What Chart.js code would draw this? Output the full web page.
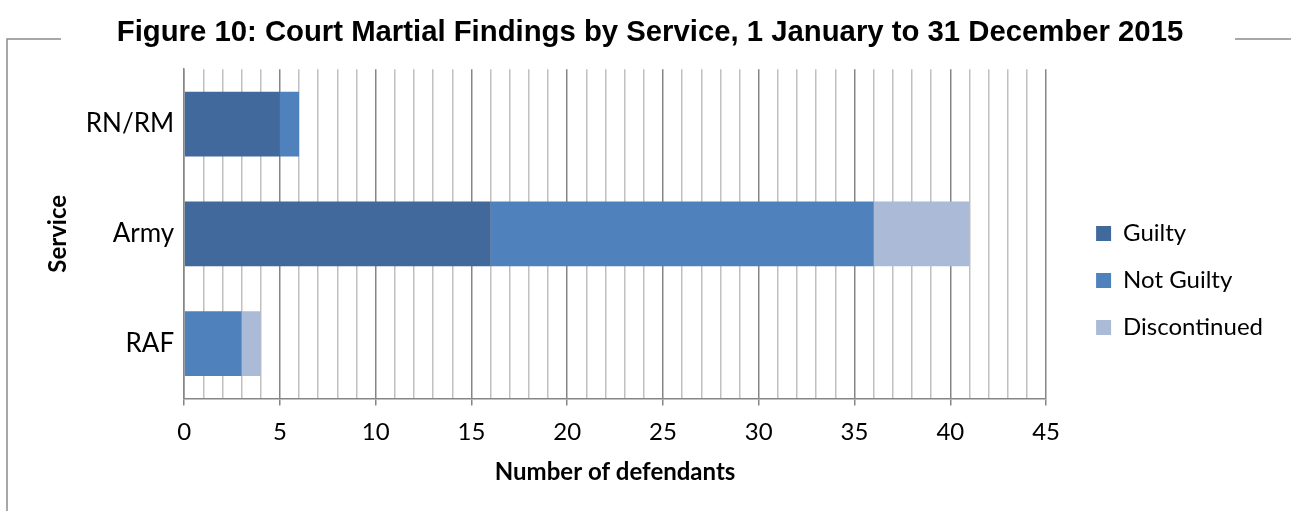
<!DOCTYPE html>
<html>
<head>
<meta charset="utf-8">
<script src="https://cdn.jsdelivr.net/npm/chart.js@4"></script>
<style>
  html, body { margin: 0; padding: 0; background: #fff; }
  #wrap { width: 1291px; height: 511px; position: relative; }
</style>
</head>
<body>
<div id="wrap"><canvas id="myChart" width="1291" height="511"></canvas></div>
<script>
const services = ['RN/RM', 'Army', 'RAF'];
const guilty = [5, 16, 0];
const notGuilty = [1, 20, 3];
const discontinued = [0, 5, 1];

// frame lines round the chart, broken by the title
const framePlugin = {
  id: 'frame',
  beforeDraw(chart) {
    const c = chart.ctx;
    c.save();
    c.strokeStyle = '#8c8c8c';
    c.lineWidth = 1.5;
    c.beginPath();
    c.moveTo(61, 39); c.lineTo(7, 39); c.lineTo(7, 511);
    c.moveTo(1235, 39); c.lineTo(1291, 39);
    c.stroke();
    c.restore();
  }
};

const ctx = document.getElementById('myChart').getContext('2d');

const data = {
  labels: services,
  datasets: [
    { label: 'Guilty', data: guilty, backgroundColor: '#41699c' },
    { label: 'Not Guilty', data: notGuilty, backgroundColor: '#4f81bd' },
    { label: 'Discontinued', data: discontinued, backgroundColor: '#aabad7' },
  ]
};

const config = {
  type: 'bar',
  data: data,
  plugins: [framePlugin],
  options: {
    indexAxis: 'y',
    responsive: false,
    animation: false,
    datasets: { bar: { categoryPercentage: 1, barPercentage: 0.59 } },
    layout: { padding: { left: 27, right: 18, top: 8, bottom: 24 } },
    plugins: {
      title: {
        display: true,
        text: 'Figure 10: Court Martial Findings by Service, 1 January to 31 December 2015',
        font: { family: 'Liberation Sans', size: 29.3, weight: 'bold' },
        color: '#000',
        padding: { top: 7, bottom: 19 }
      },
      legend: {
        position: 'right',
        title: { display: true, text: ' ', font: { size: 10 }, padding: { top: 54, bottom: 0 } },
        labels: {
          font: { family: 'Lato', size: 24 },
          color: '#000',
          boxWidth: 15,
          boxHeight: 15,
          padding: 23
        }
      },
      tooltip: { enabled: false }
    },
    scales: {
      x: {
        stacked: true,
        min: 0,
        max: 45,
        ticks: {
          stepSize: 1,
          autoSkip: false,
          maxRotation: 0,
          color: '#000',
          font: { family: 'Lato', size: 24 },
          padding: 12,
          callback: v => (v % 5 === 0 ? v : '')
        },
        grid: {
          color: c => (c.tick && c.tick.value % 5 === 0 ? '#868686' : '#c0c0c0'),
          tickColor: c => (c.tick && c.tick.value % 5 === 0 ? '#868686' : 'rgba(0,0,0,0)'),
          tickLength: 7,
          lineWidth: 1.5
        },
        border: { display: true, color: '#868686', width: 1.5 },
        title: {
          display: true,
          text: 'Number of defendants',
          font: { family: 'Lato', size: 24, weight: 'bold' },
          color: '#000',
          padding: { top: 0, bottom: 0 }
        }
      },
      y: {
        stacked: true,
        ticks: { color: '#000', font: { family: 'Lato', size: 26 }, padding: 10 },
        grid: { display: false, drawTicks: false },
        border: { display: true, color: '#868686', width: 1.5 },
        title: {
          display: true,
          text: 'Service',
          font: { family: 'Lato', size: 24, weight: 'bold' },
          color: '#000',
          padding: { top: 17, bottom: 3 }
        }
      },
      // empty axis on the right, only to keep a gap before the legend
      gap: {
        type: 'linear',
        position: 'right',
        grid: { display: false },
        ticks: { display: false },
        border: { display: false },
        afterFit(s) { s.width = 27; }
      }
    }
  }
};

const myChart = new Chart(ctx, config);
</script>
</body>
</html>
